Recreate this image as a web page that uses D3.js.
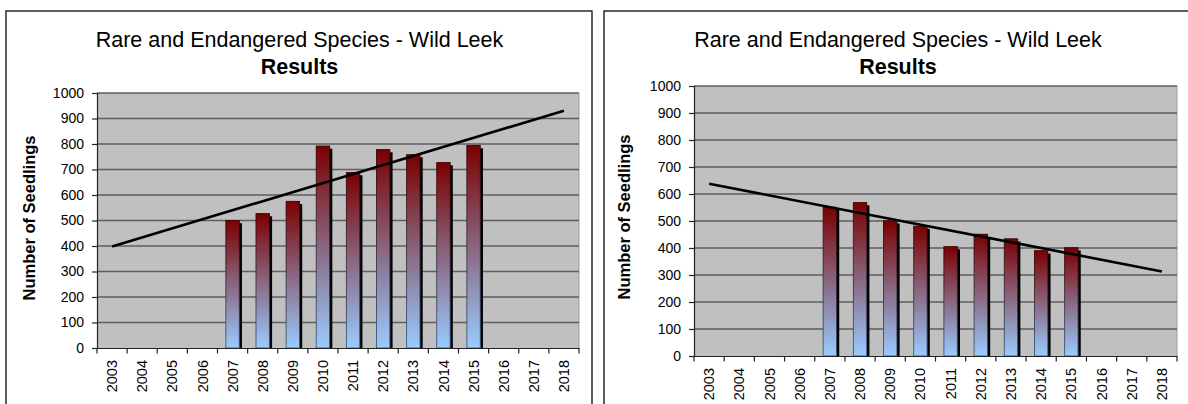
<!DOCTYPE html>
<html>
<head>
<meta charset="utf-8">
<script src="https://cdn.jsdelivr.net/npm/d3@7"></script>
<style>
  html, body { margin: 0; padding: 0; background: #fff; }
  svg { display: block; font-family: "Liberation Sans", Arial, sans-serif; }
</style>
</head>
<body>
<svg id="chart" width="1188" height="404"></svg>
<script>
// ---- data ----
const years = ["2003","2004","2005","2006","2007","2008","2009","2010","2011","2012","2013","2014","2015","2016","2017","2018"];
const seedlingsLeft  = [null,null,null,null,500,527,575,792,688,778,758,727,794,null,null,null];
const seedlingsRight = [null,null,null,null,551,568,501,481,405,451,434,390,401,null,null,null];
const yTicks = [0,100,200,300,400,500,600,700,800,900,1000];
const titleLine1 = "Rare and Endangered Species - Wild Leek";
const titleLine2 = "Results";
const yTitle = "Number of Seedlings";

const svg = d3.select("#chart");
const defs = svg.append("defs");
const grad = defs.append("linearGradient").attr("id","barGrad")
  .attr("x1",0).attr("y1",0).attr("x2",0).attr("y2",1);
grad.append("stop").attr("offset","0%").attr("stop-color","#7a0000");
grad.append("stop").attr("offset","100%").attr("stop-color","#99ccff");
const sgrad = defs.append("linearGradient").attr("id","barStroke")
  .attr("x1",0).attr("y1",0).attr("x2",0).attr("y2",1);
sgrad.append("stop").attr("offset","0%").attr("stop-color","#3a0000");
sgrad.append("stop").attr("offset","100%").attr("stop-color","#3c5c80");

function linreg(vals) {
  const pts = vals.map((v,i)=>[i,v]).filter(d=>d[1]!=null);
  const mx = d3.mean(pts,d=>d[0]), my = d3.mean(pts,d=>d[1]);
  const sxy = d3.sum(pts,d=>(d[0]-mx)*(d[1]-my));
  const sxx = d3.sum(pts,d=>(d[0]-mx)**2);
  const b = sxy/sxx, a = my - b*mx;
  return i => a + b*i;
}

function drawChart(cfg) {
  const g = svg.append("g");
  // outer box
  g.append("rect").attr("x",cfg.box.x).attr("y",cfg.box.y)
    .attr("width",cfg.box.w).attr("height",cfg.box.h)
    .attr("fill","#fff").attr("stroke","#1a1a1a").attr("stroke-width",1.4);

  const x = d3.scaleBand().domain(years).range([cfg.plot.l, cfg.plot.r]).padding(0);
  const y = d3.scaleLinear().domain([0,1000]).range([cfg.plot.b, cfg.plot.t]);

  // titles
  g.append("text").attr("x",cfg.cx).attr("y",46.5).attr("text-anchor","middle")
    .attr("font-size","21.5px").attr("fill","#000").text(titleLine1);
  g.append("text").attr("x",cfg.cx).attr("y",74).attr("text-anchor","middle")
    .attr("font-size","21.5px").attr("font-weight","bold").attr("fill","#000").text(titleLine2);

  // plot background
  g.append("rect").attr("x",cfg.plot.l).attr("y",cfg.plot.t)
    .attr("width",cfg.plot.r-cfg.plot.l).attr("height",cfg.plot.b-cfg.plot.t)
    .attr("fill","#c0c0c0");
  // right border
  g.append("line").attr("x1",cfg.plot.r).attr("x2",cfg.plot.r)
    .attr("y1",cfg.plot.t).attr("y2",cfg.plot.b).attr("stroke","#9a9a9a").attr("stroke-width",1);

  // gridlines
  g.append("g").selectAll("line").data(yTicks.filter(t=>t>0)).join("line")
    .attr("x1",cfg.plot.l).attr("x2",cfg.plot.r)
    .attr("y1",d=>y(d)).attr("y2",d=>y(d))
    .attr("stroke","#5e5e5e").attr("stroke-width",1.5);

  const vals = cfg.data;
  const bw = 13.4, off = 2.7;
  const bars = years.map((yr,i)=>({yr, v: vals[i]})).filter(d=>d.v!=null);
  // shadows
  g.append("g").selectAll("rect").data(bars).join("rect")
    .attr("x",d=>x(d.yr)+x.bandwidth()/2-bw/2+off)
    .attr("y",d=>y(d.v)+off)
    .attr("width",bw)
    .attr("height",d=>cfg.plot.b-y(d.v)-off)
    .attr("fill","#000");
  // bars
  g.append("g").selectAll("rect").data(bars).join("rect")
    .attr("x",d=>x(d.yr)+x.bandwidth()/2-bw/2)
    .attr("y",d=>y(d.v))
    .attr("width",bw)
    .attr("height",d=>cfg.plot.b-y(d.v))
    .attr("fill","url(#barGrad)")
    .attr("stroke","url(#barStroke)").attr("stroke-width",0.9);

  // trend line
  const f = linreg(vals);
  const trend = years.map((yr,i)=>[x(yr)+x.bandwidth()/2, y(f(i))]);
  g.append("path").datum([trend[0], trend[trend.length-1]])
    .attr("d", d3.line())
    .attr("fill","none").attr("stroke","#000").attr("stroke-width",2.6);

  // y axis
  const ya = g.append("g").attr("transform",`translate(${cfg.plot.l},0)`)
    .call(d3.axisLeft(y).tickValues(yTicks).tickSize(5).tickPadding(8).tickFormat(d3.format("d")));
  ya.select(".domain").attr("stroke","#222").attr("stroke-width",1.2);
  ya.selectAll(".tick line").attr("stroke","#222").attr("stroke-width",1.2);
  ya.selectAll(".tick text").attr("font-size","14px").attr("fill","#000")
    .attr("font-family","Liberation Sans, Arial, sans-serif");

  // x axis
  const xa = g.append("g").attr("transform",`translate(0,${cfg.plot.b})`)
    .call(d3.axisBottom(x).tickSize(0).tickFormat(""));
  xa.select(".domain").attr("stroke","#222").attr("stroke-width",1.2);
  // ticks at category boundaries
  const bounds = years.map(yr=>x(yr)).concat([x(years[years.length-1])+x.bandwidth()]);
  g.append("g").selectAll("line").data(bounds).join("line")
    .attr("x1",d=>d).attr("x2",d=>d)
    .attr("y1",cfg.plot.b).attr("y2",cfg.plot.b+5.5)
    .attr("stroke","#222").attr("stroke-width",1.2);
  // labels
  g.append("g").selectAll("text").data(years).join("text")
    .attr("transform",d=>`translate(${x(d)+x.bandwidth()/2},${cfg.plot.b+12}) rotate(-90)`)
    .attr("text-anchor","end").attr("dy","0.35em")
    .attr("font-size","14.5px").attr("fill","#000").text(d=>d);

  // y title
  g.append("text").attr("transform",`translate(${cfg.ytx},${cfg.yty}) rotate(-90)`)
    .attr("text-anchor","middle").attr("dy","0.35em")
    .attr("font-size","16.5px").attr("font-weight","bold").attr("fill","#000").text(yTitle);
}

drawChart({
  box: {x:6, y:11, w:586, h:420},
  cx: 299.5,
  plot: {l:97, r:579, t:93, b:348},
  data: seedlingsLeft,
  ytx: 29, yty: 218
});
drawChart({
  box: {x:604, y:11, w:588, h:420},
  cx: 898,
  plot: {l:694, r:1177, t:86, b:356},
  data: seedlingsRight,
  ytx: 624.5, yty: 217
});
</script>
</body>
</html>
